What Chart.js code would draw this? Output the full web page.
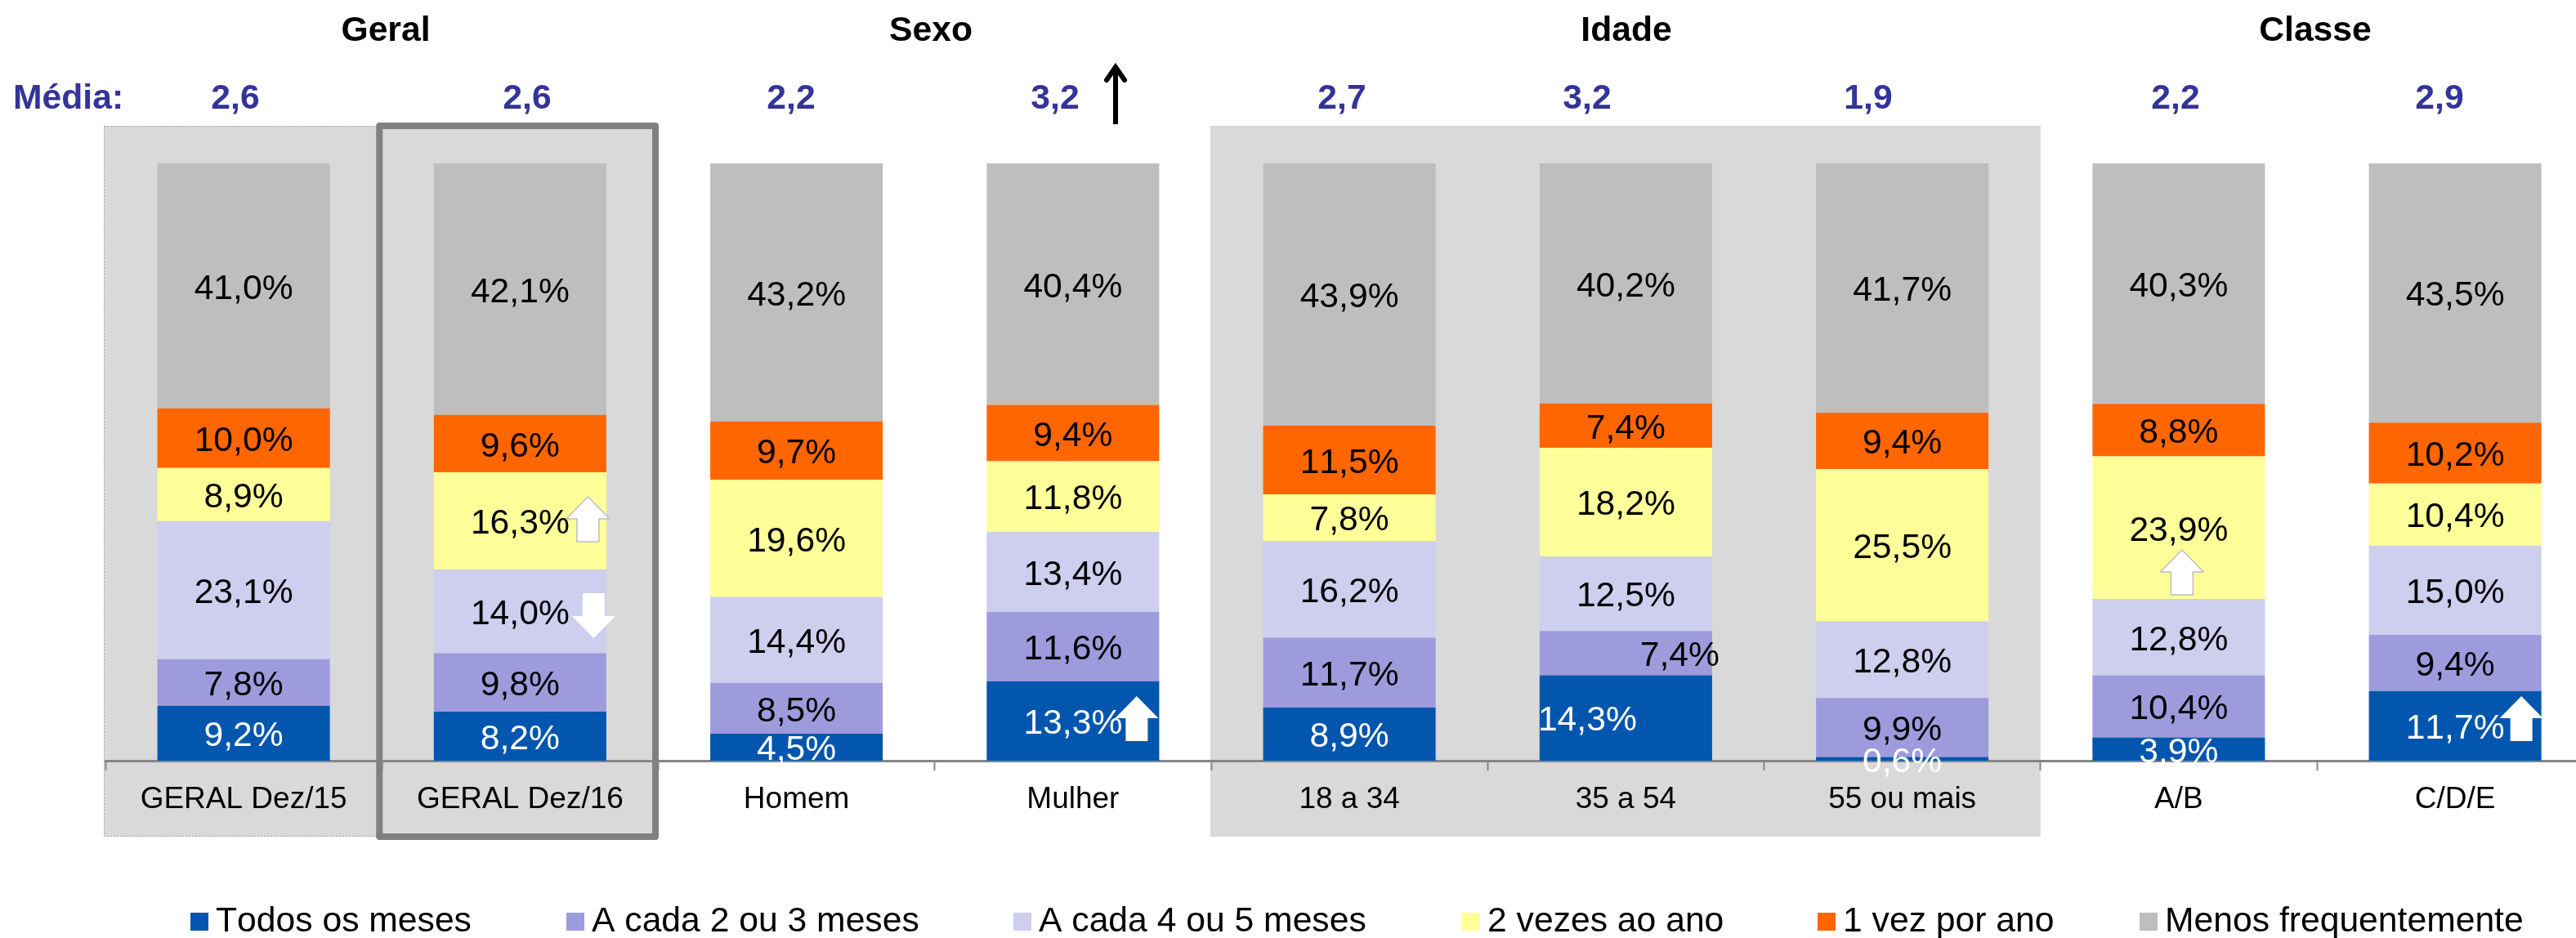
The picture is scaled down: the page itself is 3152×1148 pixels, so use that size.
<!DOCTYPE html>
<html>
<head>
<meta charset="utf-8">
<style>
  html, body { margin: 0; padding: 0; background: #fff; overflow: hidden; }
  #wrap { width: 3152px; height: 1148px; overflow: hidden; }
</style>
<script src="https://cdn.jsdelivr.net/npm/chart.js@4/dist/chart.umd.js"></script>
</head>
<body>
<div id="wrap"><canvas id="chart" width="3200" height="1148" style="width:3200px;height:1148px;display:block"></canvas></div>
<script>
const categories = ['GERAL Dez/15', 'GERAL Dez/16', 'Homem', 'Mulher', '18 a 34', '35 a 54', '55 ou mais', 'A/B', 'C/D/E'];
const medias = ['2,6', '2,6', '2,2', '3,2', '2,7', '3,2', '1,9', '2,2', '2,9'];

const todosMeses = [9.2, 8.2, 4.5, 13.3, 8.9, 14.3, 0.6, 3.9, 11.7];
const cada2ou3 = [7.8, 9.8, 8.5, 11.6, 11.7, 7.4, 9.9, 10.4, 9.4];
const cada4ou5 = [23.1, 14.0, 14.4, 13.4, 16.2, 12.5, 12.8, 12.8, 15.0];
const duasVezes = [8.9, 16.3, 19.6, 11.8, 7.8, 18.2, 25.5, 23.9, 10.4];
const umaVez = [10.0, 9.6, 9.7, 9.4, 11.5, 7.4, 9.4, 8.8, 10.2];
const menosFreq = [41.0, 42.1, 43.2, 40.4, 43.9, 40.2, 41.7, 40.3, 43.5];

const seriesNames = ['Todos os meses', 'A cada 2 ou 3 meses', 'A cada 4 ou 5 meses', '2 vezes ao ano', '1 vez por ano', 'Menos frequentemente'];
const seriesValues = [todosMeses, cada2ou3, cada4ou5, duasVezes, umaVez, menosFreq];
const seriesColors = ['#0256AE', '#9E9BDD', '#CECEEE', '#FFFF99', '#FF6600', '#BEBEBE'];
const labelColors = ['#fff', '#000', '#000', '#000', '#000', '#000'];

const FONT = '"Liberation Sans", Arial, sans-serif';

// cada coluna soma 100% (a planilha arredonda, algumas dão 99,9)
const totals = categories.map((c, i) => seriesValues.reduce((s, v) => s + v[i], 0));

// rótulos fora do centro da barra: [serie, categoria, dx]
const labelShift = [[0, 5, -47], [1, 5, 66]];

// cabeçalhos do grupo
const headers = [['Geral', 472], ['Sexo', 1139], ['Idade', 1990], ['Classe', 2833]];
const mediaX = [288, 645, 968, 1291, 1642, 1942, 2286, 2662, 2985];
const legendX = [233, 693, 1240, 1789, 2224, 2618];

// setas de variação: [categoria, dx, topo, para cima, contorno]
const arrows = [
  [1, 83, 608, true, true],
  [1, 90, 726, false, false],
  [3, 78, 852, true, false],
  [7, 4, 673, true, true],
  [8, 81, 852, true, false]
];

function drawArrow(ctx, cx, top, up, outline) {
  const h = 55, head = 27, hw = 26.5, sw = 13.5;
  const s = up ? 1 : -1;
  const y0 = up ? top : top + h;
  ctx.beginPath();
  ctx.moveTo(cx, y0);
  ctx.lineTo(cx + hw, y0 + s * head);
  ctx.lineTo(cx + sw, y0 + s * head);
  ctx.lineTo(cx + sw, y0 + s * h);
  ctx.lineTo(cx - sw, y0 + s * h);
  ctx.lineTo(cx - sw, y0 + s * head);
  ctx.lineTo(cx - hw, y0 + s * head);
  ctx.closePath();
  ctx.fillStyle = '#fff';
  ctx.fill();
  if (outline) {
    ctx.strokeStyle = '#BDBDBD';
    ctx.lineWidth = 1.5;
    ctx.stroke();
  }
}

const panels = {
  id: 'panels',
  beforeDraw(chart) {
    const ctx = chart.ctx;
    const x = chart.scales.x;
    const band = x.getPixelForValue(1) - x.getPixelForValue(0);
    const edge = i => x.getPixelForValue(i) - band / 2;
    ctx.save();
    ctx.fillStyle = '#D9D9D9';
    ctx.fillRect(edge(0) - 2, 154, band + 2, 870);
    ctx.fillRect(edge(1) - 3, 154, band, 870);
    ctx.fillRect(edge(4) - 1, 154, band * 3 + 1, 870);
    ctx.strokeStyle = '#A6A6A6';
    ctx.lineWidth = 1;
    ctx.setLineDash([2, 2]);
    ctx.strokeRect(edge(0) - 2 + 0.5, 154.5, band, 869);
    ctx.restore();
  }
};

const overlay = {
  id: 'overlay',
  afterDraw(chart) {
    const ctx = chart.ctx;
    const x = chart.scales.x;
    const band = x.getPixelForValue(1) - x.getPixelForValue(0);
    ctx.save();
    ctx.fontKerning = 'none';

    // moldura do Dez/16
    ctx.strokeStyle = '#808080';
    ctx.lineWidth = 8;
    ctx.lineJoin = 'round';
    ctx.strokeRect(x.getPixelForValue(1) - band / 2 - 3, 154, band - 0.5, 870);

    // rótulos das barras
    ctx.font = '42.67px ' + FONT;
    ctx.textAlign = 'center';
    ctx.textBaseline = 'middle';
    seriesValues.forEach((vals, s) => {
      const bars = chart.getDatasetMeta(s).data;
      vals.forEach((v, i) => {
        const shift = labelShift.find(l => l[0] === s && l[1] === i);
        const bar = bars[i];
        ctx.fillStyle = labelColors[s];
        ctx.fillText(v.toFixed(1).replace('.', ',') + '%', bar.x + (shift ? shift[2] : 0), (bar.y + bar.base) / 2 + 4);
      });
    });

    arrows.forEach(a => drawArrow(ctx, x.getPixelForValue(a[0]) + a[1], a[2], a[3], a[4]));

    // cabeçalho
    ctx.textBaseline = 'alphabetic';
    ctx.fillStyle = '#000';
    ctx.font = 'bold 42.67px ' + FONT;
    headers.forEach(h => ctx.fillText(h[0], h[1], 50));
    ctx.fillStyle = '#333399';
    medias.forEach((m, i) => ctx.fillText(m, mediaX[i], 133));
    ctx.textAlign = 'left';
    ctx.fillText('Média:', 16, 133);

    // seta preta do 3,2
    ctx.strokeStyle = '#000';
    ctx.lineWidth = 6;
    ctx.lineCap = 'butt';
    ctx.beginPath();
    ctx.moveTo(1365, 152);
    ctx.lineTo(1365, 85);
    ctx.stroke();
    ctx.lineCap = 'round';
    ctx.lineJoin = 'miter';
    ctx.beginPath();
    ctx.moveTo(1354, 98);
    ctx.lineTo(1365, 82);
    ctx.lineTo(1376, 98);
    ctx.stroke();

    // legenda
    ctx.font = '42.67px ' + FONT;
    seriesNames.forEach((name, s) => {
      ctx.fillStyle = seriesColors[s];
      ctx.fillRect(legendX[s], 1117, 22, 22);
      ctx.fillStyle = '#000';
      ctx.fillText(name, legendX[s] + 31, 1140);
    });
    ctx.restore();
  }
};

new Chart(document.getElementById('chart'), {
  type: 'bar',
  data: {
    labels: categories,
    datasets: seriesNames.map((name, s) => ({
      label: name,
      data: seriesValues[s].map((v, i) => v / totals[i] * 100),
      backgroundColor: seriesColors[s],
      borderWidth: 0,
      categoryPercentage: 1,
      barPercentage: 0.624
    }))
  },
  options: {
    responsive: false,
    animation: false,
    layout: { padding: { left: 129, right: 26.75, top: 200, bottom: 0 } },
    plugins: { legend: { display: false }, tooltip: { enabled: false }, title: { display: false } },
    scales: {
      x: {
        stacked: true,
        afterFit(scale) { scale.height = 217; },
        border: { color: '#868686', width: 3 },
        grid: { offset: true, drawOnChartArea: false, drawTicks: true, tickLength: 12, tickColor: '#868686', tickWidth: 2 },
        ticks: { color: '#000', font: { family: FONT, size: 37 }, padding: 14, maxRotation: 0, autoSkip: false }
      },
      y: { stacked: true, display: false, min: 0, max: 100 }
    }
  },
  plugins: [panels, overlay]
});
</script>
</body>
</html>
